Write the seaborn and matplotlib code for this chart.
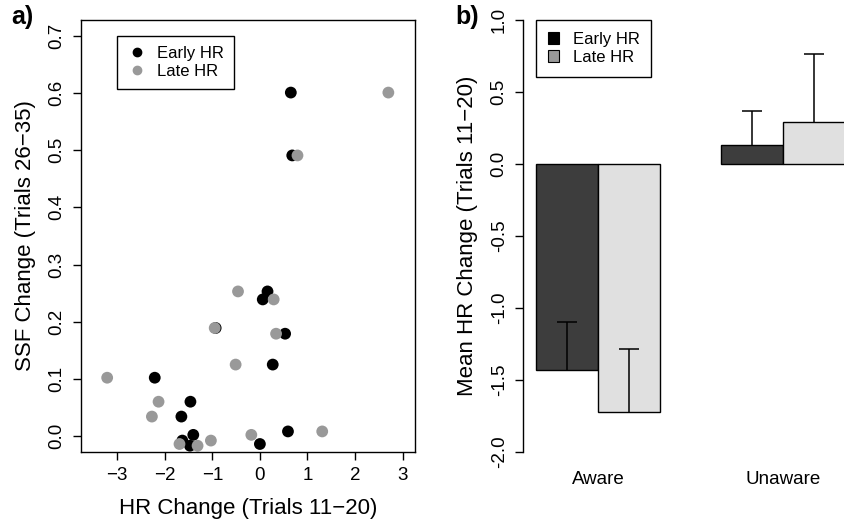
"""
Two-panel figure: SSF change vs HR change scatter (a) and mean HR change
by awareness group (b).
"""
import numpy as np
import pandas as pd
import matplotlib
matplotlib.use("Agg")
import matplotlib.pyplot as plt
from matplotlib.lines import Line2D
from matplotlib.patches import Patch
import seaborn as sns

# -- panel a data --
early_hr = [0.65, 0.68, 0.16, 0.06, -0.93, 0.53, 0.27, -2.21, -1.46, -1.65,
            -1.40, -1.63, -1.47, 0.00, 0.59]
early_ssf = [0.601, 0.491, 0.253, 0.239, 0.189, 0.179, 0.125, 0.102, 0.060,
             0.034, 0.002, -0.008, -0.017, -0.014, 0.008]
late_hr = [2.70, 0.79, -0.46, 0.29, -0.95, 0.34, -0.51, -3.21, -2.13, -2.27,
           -1.69, -1.31, -1.03, -0.18, 1.31]
late_ssf = [0.601, 0.491, 0.253, 0.239, 0.189, 0.179, 0.125, 0.102, 0.060,
            0.034, -0.014, -0.017, -0.008, 0.002, 0.008]

# -- panel b data --
conditions = ["Aware", "Unaware"]
early_mean = [-1.433, 0.132]
late_mean = [-1.725, 0.289]
early_se = [0.336, 0.236]
late_se = [0.438, 0.473]

GROUPS = ["Early HR", "Late HR"]
DOT_COLORS = {"Early HR": "black", "Late HR": "#999999"}
BAR_COLORS = {"Early HR": "#3d3d3d", "Late HR": "#e0e0e0"}
LEG_COLORS = ["black", "#999999"]

sns.set_style("white")
plt.rcParams["font.family"] = ["Liberation Sans", "DejaVu Sans"]
plt.rcParams["axes.unicode_minus"] = True
plt.rcParams["text.color"] = "black"
plt.rcParams["axes.labelcolor"] = "black"
plt.rcParams["xtick.color"] = "black"
plt.rcParams["ytick.color"] = "black"

W, H = 844, 526
fig = plt.figure(figsize=(W / 100, H / 100), dpi=100)

def px_axes(left, right, top, bottom):
    return fig.add_axes([left / W, 1 - bottom / H, (right - left) / W, (bottom - top) / H])

TICK_FS = 13.5
LABEL_FS = 16

# ---------------- panel a ----------------
ax1 = px_axes(81, 415, 20, 452)
scatter_df = pd.DataFrame({
    "hr": early_hr + late_hr,
    "ssf": early_ssf + late_ssf,
    "group": ["Early HR"] * len(early_hr) + ["Late HR"] * len(late_hr),
})
sns.scatterplot(data=scatter_df, x="hr", y="ssf", hue="group", palette=DOT_COLORS,
                s=72, linewidth=0, legend=False, ax=ax1)
ax1.set_xlim(-3.76, 3.26)
ax1.set_ylim(-0.028, 0.728)
ax1.set_xticks(np.arange(-3, 4, 1))
ax1.set_yticks(np.arange(0, 0.71, 0.1))
ax1.set_yticklabels([f"{v:.1f}" for v in np.arange(0, 0.71, 0.1)])
ax1.set_xlabel("HR Change (Trials 11\u221220)", fontsize=LABEL_FS, labelpad=10)
ax1.set_ylabel("SSF Change (Trials 26\u221235)", fontsize=LABEL_FS, labelpad=9)
for sp in ax1.spines.values():
    sp.set_color("black")
    sp.set_linewidth(1.0)
ax1.tick_params(axis="both", direction="out", length=6, width=1.0, color="black",
                labelsize=TICK_FS, pad=5, bottom=True, left=True)
ax1.tick_params(axis="y", labelrotation=90)
for t in ax1.get_yticklabels():
    t.set_va("center")
handles_a = [Line2D([], [], marker="o", linestyle="none", markersize=6,
                    markerfacecolor=c, markeredgecolor=c) for c in LEG_COLORS]
leg = ax1.legend(handles_a, GROUPS, loc="upper left", bbox_to_anchor=(0.108, 0.963),
                 borderaxespad=0, fontsize=12, frameon=True, fancybox=False,
                 edgecolor="black", framealpha=1, handletextpad=0.6,
                 borderpad=0.6, labelspacing=0.2, handlelength=1.2)
leg.get_frame().set_linewidth(1.0)
fig.text(11 / W, 1 - 17 / H, "a)", fontsize=18, fontweight="bold", va="center")

# ---------------- panel b ----------------
ax2 = px_axes(523, 858, 20, 452)
bar_df = pd.DataFrame({
    "cond": conditions * 2,
    "mean": early_mean + late_mean,
    "se": early_se + late_se,
    "group": ["Early HR"] * 2 + ["Late HR"] * 2,
})
sns.barplot(data=bar_df, x="cond", y="mean", hue="group", hue_order=GROUPS,
            palette=BAR_COLORS, width=2 / 3, edgecolor="black", linewidth=1.0,
            errorbar=None, legend=False, ax=ax2)
# one-sided (upward) error bars from each bar end, cap on top only
for cont, grp in zip(ax2.containers, GROUPS):
    sub = bar_df[bar_df["group"] == grp]
    xs = np.array([b.get_x() + b.get_width() / 2 for b in cont])
    tops = sub["mean"].to_numpy() + sub["se"].to_numpy()
    ax2.vlines(xs, sub["mean"], tops, color="black", linewidth=1.1)
    ax2.plot(xs, tops, linestyle="none", marker="_", markersize=14,
             markeredgewidth=1.1, color="black")
ax2.set_xlim(-0.405, 1.405)
ax2.set_ylim(-2, 1)
ax2.set_yticks(np.arange(-2, 1.01, 0.5))
ax2.set_yticklabels([f"{v:.1f}" for v in np.arange(-2, 1.01, 0.5)])
ax2.set_xlabel("")
ax2.set_ylabel("Mean HR Change (Trials 11\u221220)", fontsize=LABEL_FS, labelpad=9)
for side in ["top", "right", "bottom"]:
    ax2.spines[side].set_visible(False)
ax2.spines["left"].set_color("black")
ax2.spines["left"].set_linewidth(1.0)
ax2.spines["left"].set_bounds(-2, 1)
ax2.tick_params(axis="y", direction="out", length=6, width=1.0, color="black",
                labelsize=TICK_FS, pad=5, left=True, labelrotation=90)
for t in ax2.get_yticklabels():
    t.set_va("center")
ax2.tick_params(axis="x", length=0, labelsize=TICK_FS, pad=14)
handles_b = [Patch(facecolor=c, edgecolor="black", linewidth=0.8) for c in LEG_COLORS]
leg2 = ax2.legend(handles_b, GROUPS, loc="upper left", bbox_to_anchor=(0.039, 1.0),
                  borderaxespad=0, fontsize=12, frameon=True, fancybox=False,
                  edgecolor="black", framealpha=1, handletextpad=0.8,
                  borderpad=0.7, labelspacing=0.2, handlelength=0.7, handleheight=0.7)
leg2.get_frame().set_linewidth(1.0)
fig.text(455 / W, 1 - 17 / H, "b)", fontsize=18, fontweight="bold", va="center")

fig.savefig("out.png", dpi=100)
